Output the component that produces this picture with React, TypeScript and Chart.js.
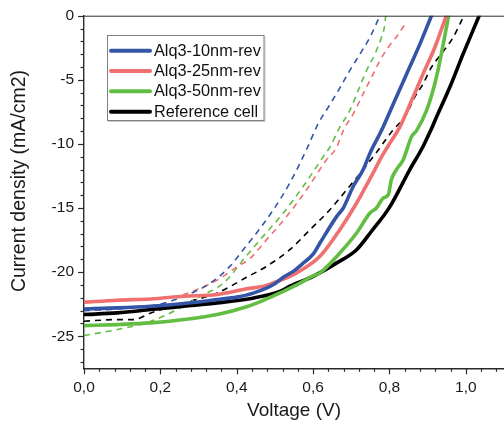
import React, { useEffect, useRef } from 'react';
import { Chart, registerables } from 'chart.js';

Chart.register(...registerables);

// ---------- data ----------
const X_TICKS = [0, 0.2, 0.4, 0.6, 0.8, 1.0];
const Y_TICKS = [-25, -20, -15, -10, -5, 0];

const LABELS = ['Alq3-10nm-rev', 'Alq3-25nm-rev', 'Alq3-50nm-rev', 'Reference cell'];
const COLORS = ['rgb(52,84,166)', 'rgb(240,112,112)', 'rgb(98,190,66)', 'rgb(0,0,0)'];

// solid (reverse scan) curves
const V_10 = [0, 0.087, 0.175, 0.262, 0.349, 0.40, 0.445, 0.50, 0.522, 0.55, 0.574, 0.60, 0.618, 0.662, 0.679, 0.705, 0.731, 0.749, 0.779, 0.81, 0.845, 0.88, 0.91];
const J_10 = [-22.87, -22.79, -22.66, -22.45, -22.14, -21.95, -21.62, -20.9, -20.4, -19.9, -19.3, -18.6, -17.73, -15.65, -15.0, -13.32, -12.02, -10.72, -8.96, -6.88, -4.54, -2.2, 0];

const V_25 = [0, 0.087, 0.175, 0.262, 0.349, 0.426, 0.47, 0.496, 0.557, 0.618, 0.67, 0.714, 0.757, 0.78, 0.801, 0.827, 0.858, 0.888, 0.919, 0.949];
const J_25 = [-22.35, -22.19, -22.09, -21.88, -21.75, -21.3, -21.1, -20.84, -20.06, -18.77, -16.69, -14.61, -12.27, -10.98, -9.94, -8.69, -6.62, -4.54, -2.46, 0];

const V_50 = [0, 0.087, 0.175, 0.262, 0.349, 0.426, 0.47, 0.513, 0.557, 0.6, 0.618, 0.67, 0.714, 0.749, 0.766, 0.784, 0.797, 0.805, 0.818, 0.836, 0.858, 0.871, 0.897, 0.914, 0.927, 0.941, 0.955];
const J_50 = [-24.17, -24.09, -23.96, -23.7, -23.31, -22.7, -22.2, -21.62, -21.0, -20.3, -20.06, -18.51, -16.95, -15.39, -15.0, -14.22, -13.96, -12.8, -12.02, -11.24, -9.42, -8.96, -7.4, -5.84, -4.28, -2.2, 0];

const V_REF = [0, 0.087, 0.175, 0.262, 0.349, 0.445, 0.513, 0.539, 0.6, 0.662, 0.714, 0.752, 0.80, 0.853, 0.888, 0.906, 0.923, 0.958, 0.993, 1.035];
const J_REF = [-23.31, -23.18, -22.92, -22.66, -22.4, -22.01, -21.5, -21.1, -20.33, -19.28, -18.25, -16.85, -14.95, -12.02, -10.2, -9.08, -7.92, -5.58, -2.98, 0];

// dashed (forward scan) curves
const V_10F = [0, 0.1, 0.2, 0.262, 0.332, 0.382, 0.417, 0.452, 0.496, 0.539, 0.585, 0.613, 0.64, 0.666, 0.696, 0.723, 0.749, 0.775];
const J_10F = [-23.0, -22.85, -22.5, -21.88, -20.84, -19.55, -18.25, -16.95, -15.13, -13.05, -10.3, -8.43, -7.13, -5.84, -4.28, -2.98, -1.68, 0];

const V_25F = [0, 0.1, 0.2, 0.25, 0.3, 0.35, 0.4, 0.436, 0.478, 0.531, 0.583, 0.635, 0.662, 0.679, 0.705, 0.731, 0.753, 0.775, 0.797, 0.822, 0.845];
const J_25F = [-22.3, -22.15, -22.0, -21.85, -21.3, -20.6, -19.6, -18.9, -17.47, -15.65, -13.57, -11.24, -10.25, -8.96, -7.66, -6.1, -4.8, -3.5, -2.46, -1.5, -0.47];

const V_50F = [0, 0.087, 0.175, 0.244, 0.305, 0.366, 0.428, 0.469, 0.522, 0.574, 0.627, 0.644, 0.67, 0.696, 0.718, 0.74, 0.762, 0.779, 0.788, 0.79];
const J_50F = [-24.94, -24.48, -23.83, -22.92, -21.88, -20.84, -18.64, -17.21, -15.39, -13.32, -10.98, -10.25, -8.69, -7.4, -5.84, -4.28, -2.98, -1.68, -0.65, 0];

const V_REFF = [0, 0.087, 0.131, 0.175, 0.262, 0.349, 0.426, 0.478, 0.539, 0.592, 0.644, 0.688, 0.731, 0.765, 0.805, 0.845, 0.866, 0.888, 0.91, 0.936, 0.967, 0.995];
const J_REFF = [-23.83, -23.7, -23.7, -23.18, -22.4, -21.62, -20.4, -19.55, -18.25, -16.69, -15.13, -13.57, -12.02, -10.7, -9.08, -7.66, -6.36, -5.32, -4.02, -2.98, -1.68, 0];

const SOLID_V = [V_10, V_25, V_50, V_REF];
const SOLID_J = [J_10, J_25, J_50, J_REF];
const DASH_V = [V_10F, V_25F, V_50F, V_REFF];
const DASH_J = [J_10F, J_25F, J_50F, J_REFF];

const X_TITLE = 'Voltage (V)';
const Y_TITLE = 'Current density (mA/cm2)';

const FONT = '"Liberation Sans", Arial, sans-serif';

const pts = (v: number[], j: number[]) => v.map((x, i) => ({ x, y: j[i] }));

const decor = {
  id: 'decor',
  afterDraw(chart: any) {
    const { ctx, chartArea: ca, scales } = chart;
    const xs = scales.x;
    const ys = scales.y;
    ctx.save();
    ctx.strokeStyle = '#2a2a2a';
    // top frame line
    ctx.lineWidth = 1;
    ctx.beginPath();
    ctx.moveTo(ca.left, ca.top + 0.5);
    ctx.lineTo(ca.right, ca.top + 0.5);
    ctx.stroke();
    // y ticks (major every 5, minor every 1)
    ctx.lineWidth = 1.2;
    for (let v = -27; v <= 0; v++) {
      const y = Math.round(ys.getPixelForValue(v)) + 0.5;
      const len = v % 5 === 0 ? 6 : 3.5;
      ctx.beginPath();
      ctx.moveTo(ca.left, y);
      ctx.lineTo(ca.left - len, y);
      ctx.stroke();
    }
    // x ticks (major every 0.2, minor every 0.04)
    for (let i = 0; i <= 27; i++) {
      const x = Math.round(xs.getPixelForValue(i * 0.04)) + 0.5;
      const len = i % 5 === 0 ? 6 : 3.5;
      ctx.beginPath();
      ctx.moveTo(x, ca.bottom);
      ctx.lineTo(x, ca.bottom + len);
      ctx.stroke();
    }
    // axis titles
    ctx.fillStyle = '#1a1a1a';
    ctx.font = `19px ${FONT}`;
    ctx.textAlign = 'center';
    ctx.textBaseline = 'alphabetic';
    ctx.fillText(X_TITLE, (ca.left + ca.right) / 2, 416);
    ctx.save();
    ctx.font = `19.5px ${FONT}`;
    ctx.translate(25, 181);
    ctx.rotate(-Math.PI / 2);
    ctx.fillText(Y_TITLE, 0, 0);
    ctx.restore();

    // legend
    const bx = 107.5, by = 35.5, bw = 156.5, bh = 85;
    ctx.fillStyle = '#ffffff';
    ctx.fillRect(bx, by, bw, bh);
    ctx.strokeStyle = '#c8c8c8';
    ctx.lineWidth = 1;
    ctx.beginPath();
    ctx.moveTo(bx + bw + 1, by + 1);
    ctx.lineTo(bx + bw + 1, by + bh + 1);
    ctx.lineTo(bx + 1, by + bh + 1);
    ctx.stroke();
    ctx.strokeStyle = '#808080';
    ctx.strokeRect(bx, by, bw, bh);
    ctx.font = `16.3px ${FONT}`;
    ctx.textAlign = 'left';
    ctx.textBaseline = 'middle';
    chart.data.datasets.forEach((ds: any) => {
      if (ds.legendRow === undefined) return;
      const y = 50.7 + ds.legendRow * 20.33;
      ctx.strokeStyle = ds.borderColor;
      ctx.lineWidth = 4;
      ctx.lineCap = 'round';
      ctx.setLineDash([]);
      ctx.beginPath();
      ctx.moveTo(111, y);
      ctx.lineTo(150, y);
      ctx.stroke();
      ctx.fillStyle = '#111';
      ctx.fillText(ds.label, 154, y + 0.5);
    });
    ctx.restore();
  },
};

export default function App() {
  const ref = useRef<HTMLCanvasElement>(null);
  useEffect(() => {
    const solid = SOLID_V.map((v, k) => ({
      label: LABELS[k],
      legendRow: k,
      data: pts(v, SOLID_J[k]),
      borderColor: COLORS[k],
      backgroundColor: COLORS[k],
      borderWidth: 3.6,
      showLine: true,
      pointRadius: 0,
      cubicInterpolationMode: 'monotone',
      borderJoinStyle: 'round',
      borderCapStyle: 'round',
      order: k,
    }));
    const dashed = DASH_V.map((v, k) => ({
      label: LABELS[k] + ' (fwd)',
      data: pts(v, DASH_J[k]),
      borderColor: COLORS[k],
      backgroundColor: COLORS[k],
      borderWidth: 1.6,
      borderDash: [6, 5],
      showLine: true,
      pointRadius: 0,
      cubicInterpolationMode: 'monotone',
      order: 10 + k,
    }));
    const chart = new Chart(ref.current as HTMLCanvasElement, {
      type: 'scatter',
      data: { datasets: [...solid, ...dashed] as any },
      options: {
        animation: false,
        responsive: false,
        events: [],
        layout: { padding: { top: 15.7, left: 0, right: 0, bottom: 0 } },
        plugins: { legend: { display: false }, tooltip: { enabled: false } },
        scales: {
          x: {
            type: 'linear',
            min: 0,
            max: 1.1,
            grid: { display: false, drawTicks: false },
            border: { display: true, color: '#2a2a2a', width: 1.4 },
            afterBuildTicks: (s: any) => {
              s.ticks = X_TICKS.map((value) => ({ value }));
            },
            afterFit: (s: any) => {
              s.height = 56.7;
              s.paddingLeft = 0;
              s.paddingRight = 0;
            },
            ticks: {
              autoSkip: false,
              maxRotation: 0,
              padding: 10,
              color: '#1a1a1a',
              font: { family: FONT, size: 15.5 },
              callback: (v: any) => Number(v).toFixed(1).replace('.', ','),
            },
          },
          y: {
            type: 'linear',
            min: -27.5,
            max: 0,
            grid: { display: false, drawTicks: false },
            border: { display: true, color: '#2a2a2a', width: 1.4 },
            afterBuildTicks: (s: any) => {
              s.ticks = Y_TICKS.map((value) => ({ value }));
            },
            afterFit: (s: any) => {
              s.width = 84;
              s.paddingTop = 0;
              s.paddingBottom = 0;
            },
            ticks: {
              autoSkip: false,
              padding: 10,
              color: '#1a1a1a',
              font: { family: FONT, size: 15.5 },
              callback: (v: any) => String(v),
            },
          },
        },
      },
      plugins: [decor],
    });
    return () => chart.destroy();
  }, []);
  return (
    <div style={{ position: 'absolute', left: 0, top: 0, width: 504, height: 425, background: '#fff' }}>
      <canvas ref={ref} width={504} height={425} style={{ display: 'block' }} />
    </div>
  );
}
